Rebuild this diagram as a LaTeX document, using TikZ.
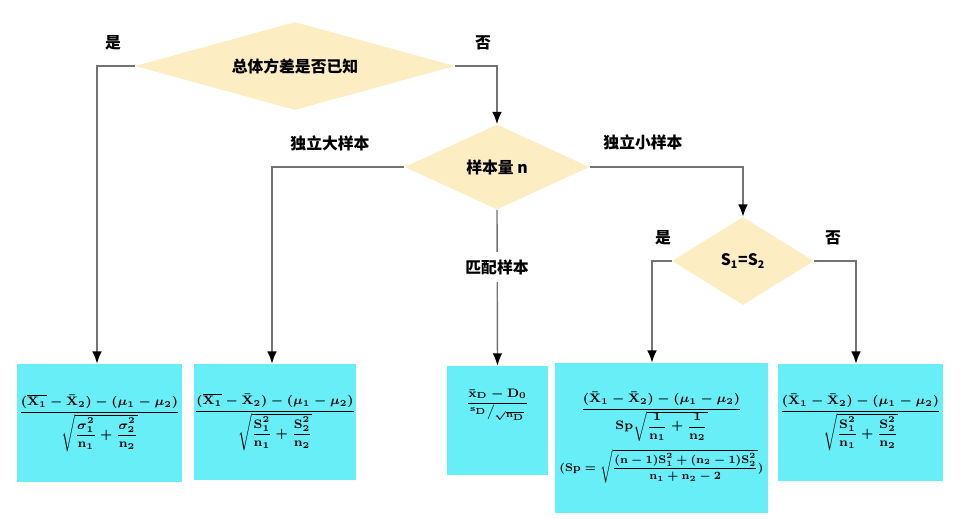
\documentclass[tikz,border=0pt]{standalone}
\usepackage{fontspec}
\usepackage{amsmath}
\usepackage{graphicx}
\usetikzlibrary{shapes.geometric,arrows.meta}
\newfontfamily\cjk{Noto Sans CJK SC}
\definecolor{cyanbox}{RGB}{104,238,247}
\definecolor{diamondfill}{RGB}{253,237,194}
\tikzset{
  decision/.style={diamond, fill=diamondfill, inner sep=0pt, font=\cjk\bfseries\small},
  formula/.style={rectangle, fill=cyanbox, inner sep=0pt, align=center, font=\scriptsize\boldmath},
  lbl/.style={inner sep=1pt, font=\cjk\bfseries\small},
  link/.style={draw=black!55, line width=0.8pt, -{Latex[length=7pt,width=5.5pt,color=black]}}
}
\begin{document}
\begin{tikzpicture}[x=0.02cm,y=-0.02cm]
\useasboundingbox (0,0) rectangle (975,518);

\node[decision, aspect=3.6, minimum width=6.4cm, minimum height=1.76cm] (known) at (295,66) {总体方差是否已知};
\node[decision, aspect=2.2, minimum width=3.7cm, minimum height=1.7cm] (size) at (497,167) {样本量 n};
\node[decision, aspect=1.6, minimum width=2.84cm, minimum height=1.76cm] (equal) at (743,261) {S\textsubscript{1}=S\textsubscript{2}};

\node[formula, minimum width=3.3cm, minimum height=2.36cm] (zbox) at (99.5,423)
  {$\mathbf{\dfrac{(\overline{X_1}-\bar X_2)-(\mu_1-\mu_2)}{\sqrt{\dfrac{\sigma_1^2}{n_1}+\dfrac{\sigma_2^2}{n_2}}}}$};
\node[formula, minimum width=3.2cm, minimum height=2.32cm] (large) at (275,422)
  {$\mathbf{\dfrac{(\overline{X_1}-\bar X_2)-(\mu_1-\mu_2)}{\sqrt{\dfrac{S_1^2}{n_1}+\dfrac{S_2^2}{n_2}}}}$};
\node[formula, minimum width=2.02cm, minimum height=2.18cm] (paired) at (497.5,420.5)
  {$\mathbf{\dfrac{\bar x_D-D_0}{{}^{s_D}\big/{}_{\sqrt{n_D}}}}$\\[0.6cm]};
\node[formula, minimum width=4.26cm, minimum height=3cm] (pooled) at (661.5,438)
  {$\mathbf{\dfrac{(\bar X_1-\bar X_2)-(\mu_1-\mu_2)}{Sp\sqrt{\dfrac{1}{n_1}+\dfrac{1}{n_2}}}}$\\[4pt]
   \scalebox{0.9}{$\mathbf{(Sp=\sqrt{\dfrac{(n-1)S_1^2+(n_2-1)S_2^2}{n_1+n_2-2}})}$}};
\node[formula, minimum width=3.3cm, minimum height=2.34cm] (welch) at (860.5,422.5)
  {$\mathbf{\dfrac{(\bar X_1-\bar X_2)-(\mu_1-\mu_2)}{\sqrt{\dfrac{S_1^2}{n_1}+\dfrac{S_2^2}{n_2}}}}$};

\draw[link] (known.west) -| (zbox.north -| 97,0);
\draw[link] (known.east) -| (size.north);
\draw[link] (size.west) -| (large.north -| 272,0);
\draw[link] (size.south) -- (paired.north);
\draw[link] (size.east) -| (equal.north);
\draw[link] (equal.west) -| (pooled.north -| 652,0);
\draw[link] (equal.east) -| (welch.north -| 856,0);

\node[lbl] (yes1) at (113,43) {是};
\node[lbl] (no1) at (483,43) {否};
\node[lbl] (indlarge) at (330,143) {独立大样本};
\node[lbl] (indsmall) at (643,142) {独立小样本};
\node[lbl, fill=white, inner sep=4pt] (match) at (497,267) {匹配样本};
\node[lbl] (yes2) at (663,238) {是};
\node[lbl] (no2) at (833,238) {否};
\end{tikzpicture}
\end{document}
